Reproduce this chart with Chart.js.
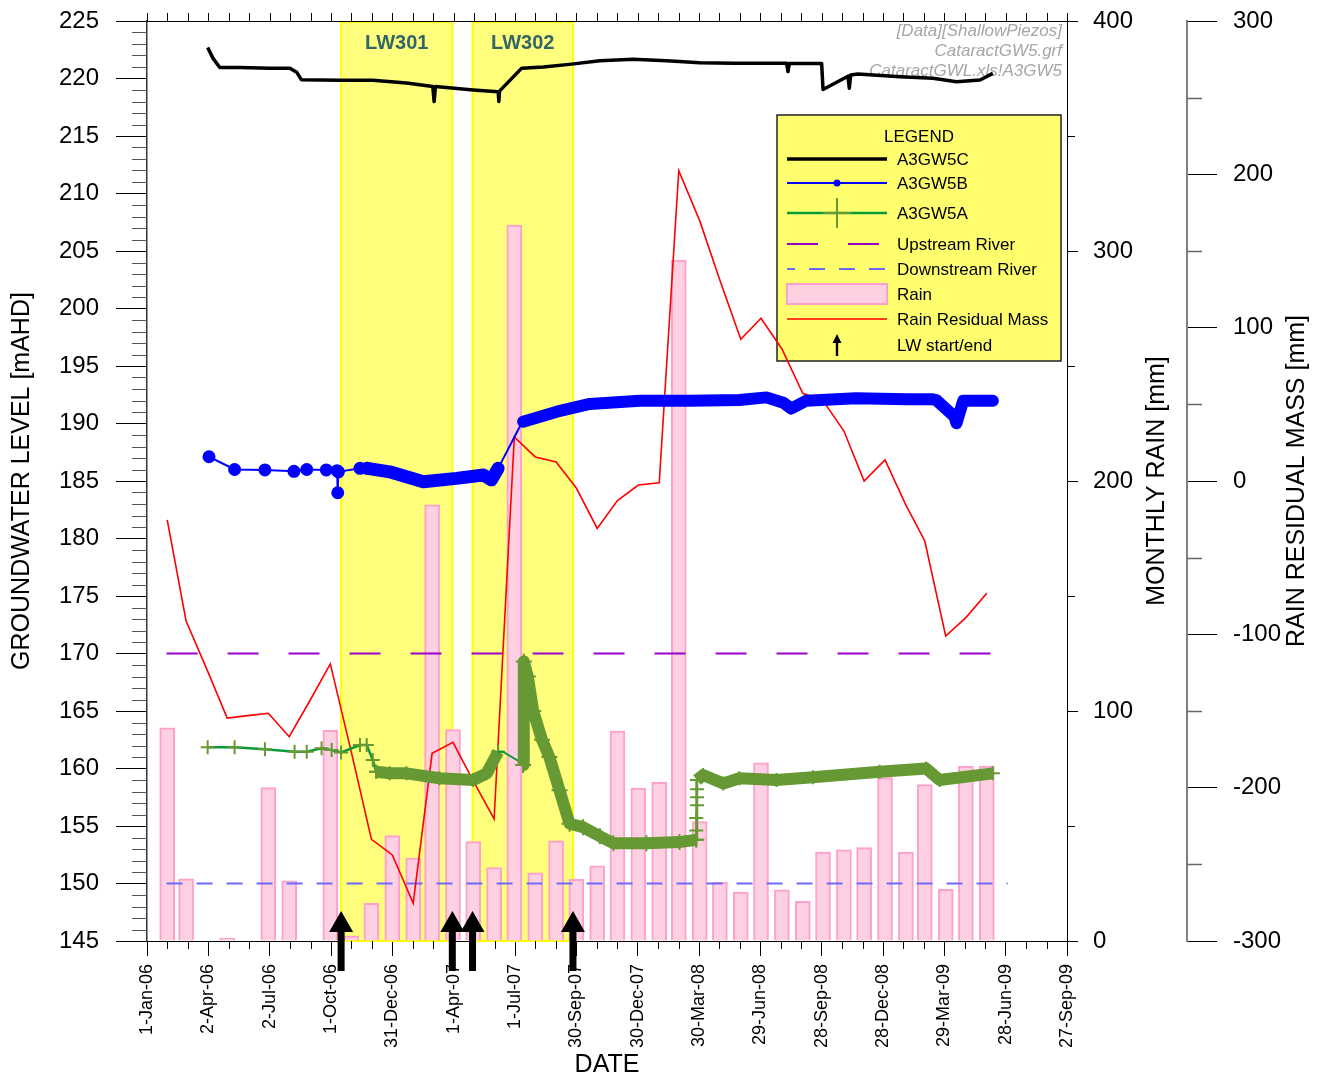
<!DOCTYPE html>
<html>
<head>
<meta charset="utf-8">
<title>Cataract GW5 groundwater levels</title>
<script src="https://cdn.jsdelivr.net/npm/chart.js@4/dist/chart.umd.min.js"></script>
<style>
  html, body { margin: 0; padding: 0; background: #ffffff; }
  canvas { display: block; }
</style>
</head>
<body>
<canvas id="chart" width="1324" height="1081"></canvas>
<script>
// ---- data -------------------------------------------------------------

// Monthly rain (mm), plotted at the end of each month
const rainMonths = [
  '2006-01','2006-02','2006-03','2006-04','2006-05','2006-06','2006-07','2006-08','2006-09','2006-10','2006-11','2006-12',
  '2007-01','2007-02','2007-03','2007-04','2007-05','2007-06','2007-07','2007-08','2007-09','2007-10','2007-11','2007-12',
  '2008-01','2008-02','2008-03','2008-04','2008-05','2008-06','2008-07','2008-08','2008-09','2008-10','2008-11','2008-12',
  '2009-01','2009-02','2009-03','2009-04','2009-05'
];
const rainMm = [
  92.7, 27.0, 0, 1.2, 0, 66.7, 26.2, 0, 91.6, 2.3, 16.4, 45.8,
  36.0, 189.6, 91.9, 43.2, 31.9, 311.3, 29.6, 43.6, 26.8, 32.7, 91.3, 66.5,
  69.0, 296.0, 51.9, 25.5, 21.3, 77.5, 22.3, 17.2, 38.7, 39.6, 40.6, 71.0,
  38.7, 68.0, 22.5, 76.1, 76.1
];
// Rain residual mass (mm), same months
const residualMm = [
  -25.4, -91.3, -123.0, -154.6, -153.0, -151.5, -166.8, -143.0, -119.3, -176.5, -233.7, -243.9,
  -275.4, -177.6, -170.4, -195.5, -220.4, 28.7, 15.7, 12.4, -4.6, -30.9, -12.8, -2.6,
  -1.1, 202.4, 169.8, 131.0, 92.4, 106.1, 86.1, 57.2, 52.4, 32.6, 0.0, 13.7,
  -15.7, -39.1, -101.1, -89.1, -73.2
];

// A3GW5C (mAHD)
const gw5c = [
  ['2006-04-01', 222.70], ['2006-04-09', 221.75], ['2006-04-19', 220.95], ['2006-05-19', 220.95],
  ['2006-07-02', 220.90], ['2006-08-01', 220.90], ['2006-08-11', 220.55], ['2006-08-18', 219.90],
  ['2006-10-14', 219.85], ['2006-12-02', 219.85], ['2007-01-21', 219.60], ['2007-03-01', 219.30],
  ['2007-03-03', 218.00], ['2007-03-05', 219.30], ['2007-04-30', 219.00], ['2007-06-06', 218.85],
  ['2007-06-07', 218.00], ['2007-06-08', 218.90], ['2007-07-11', 220.90], ['2007-08-12', 221.00],
  ['2007-09-23', 221.25], ['2007-11-04', 221.55], ['2007-12-23', 221.67], ['2008-02-11', 221.55],
  ['2008-03-31', 221.37], ['2008-05-20', 221.32], ['2008-08-07', 221.32], ['2008-08-09', 220.60],
  ['2008-08-11', 221.30], ['2008-09-28', 221.30], ['2008-09-30', 219.05], ['2008-11-06', 220.20],
  ['2008-11-08', 219.15], ['2008-11-10', 220.30], ['2008-11-21', 220.40], ['2009-01-22', 220.16],
  ['2009-03-12', 220.02], ['2009-04-16', 219.72], ['2009-05-21', 219.87], ['2009-06-09', 220.45]
];

// A3GW5B (mAHD): manual dips and logger records
const gw5bManual = [
  ['2006-04-03', 187.11], ['2006-05-11', 186.00], ['2006-06-25', 185.96], ['2006-08-07', 185.84],
  ['2006-08-26', 186.00], ['2006-09-24', 185.96], ['2006-10-10', 185.90], ['2006-10-11', 183.98],
  ['2006-10-12', 185.80], ['2006-11-13', 186.10], ['2006-11-24', 186.10]
];
const gw5bLogger1 = [
  ['2006-11-24', 186.10], ['2006-12-27', 185.80], ['2007-02-15', 184.94], ['2007-04-05', 185.23],
  ['2007-05-15', 185.52], ['2007-05-27', 185.10], ['2007-06-06', 186.10]
];
const gw5bGap = [
  ['2007-06-06', 186.10], ['2007-07-08', 189.72], ['2007-07-13', 190.16]
];
const gw5bLogger2 = [
  ['2007-07-13', 190.16], ['2007-09-01', 191.03], ['2007-10-20', 191.70], ['2008-01-02', 191.98],
  ['2008-03-16', 191.98], ['2008-05-29', 192.04], ['2008-07-08', 192.27], ['2008-08-02', 191.81],
  ['2008-08-14', 191.30], ['2008-09-05', 191.98], ['2008-11-18', 192.19], ['2009-02-01', 192.10],
  ['2009-03-12', 192.10], ['2009-03-17', 192.04], ['2009-04-13', 190.60], ['2009-04-16', 190.02],
  ['2009-04-26', 191.98], ['2009-06-09', 191.98]
];

// A3GW5A (mAHD): manual dips and logger records
const gw5aManual = [
  ['2006-04-01', 161.84], ['2006-05-11', 161.84], ['2006-06-25', 161.67], ['2006-08-08', 161.46],
  ['2006-08-26', 161.46], ['2006-09-17', 161.76], ['2006-10-02', 161.60], ['2006-10-16', 161.40],
  ['2006-11-13', 162.04], ['2006-11-23', 162.04], ['2006-12-02', 160.74], ['2006-12-07', 159.72]
];
const gw5aLogger1 = [
  ['2006-12-07', 159.72], ['2006-12-27', 159.58], ['2007-01-21', 159.58], ['2007-03-11', 159.15],
  ['2007-04-30', 159.00], ['2007-05-20', 159.58], ['2007-06-06', 161.46]
];
const gw5aGap = [
  ['2007-06-06', 161.46], ['2007-06-13', 161.46], ['2007-07-08', 160.59], ['2007-07-13', 160.30]
];
const gw5aLogger2 = [
  ['2007-07-13', 160.30], ['2007-07-14', 169.30], ['2007-07-20', 168.00], ['2007-07-28', 165.00],
  ['2007-08-10', 162.50], ['2007-08-21', 161.00], ['2007-09-05', 158.10], ['2007-09-20', 155.20],
  ['2007-10-10', 154.90], ['2007-11-04', 154.10], ['2007-11-24', 153.50], ['2008-01-12', 153.50],
  ['2008-03-01', 153.60], ['2008-03-26', 153.80]
];
const gw5aRecovery = [
  ['2008-03-26', 153.80], ['2008-03-26', 154.60], ['2008-03-26', 155.70], ['2008-03-27', 156.80],
  ['2008-03-27', 157.50], ['2008-03-27', 158.20], ['2008-03-27', 159.00]
];
const gw5aLogger3 = [
  ['2008-03-27', 159.00], ['2008-04-05', 159.43], ['2008-05-05', 158.70], ['2008-05-29', 159.15],
  ['2008-07-23', 159.00], ['2008-09-15', 159.24], ['2008-12-23', 159.72], ['2009-03-02', 160.00],
  ['2009-03-22', 159.00], ['2009-06-09', 159.58]
];

// River pool levels (mAHD)
const upstreamRiver = 170;
const downstreamRiver = 150;
const riverSpan = ['2006-01-30', '2009-07-01'];

// Longwall extraction periods
const longwalls = [
  { name: 'LW301', start: '2006-10-16', end: '2007-03-30' },
  { name: 'LW302', start: '2007-04-29', end: '2007-09-25' }
];

// Date axis tick dates
const xTickDates = [
  '2006-01-01','2006-04-02','2006-07-02','2006-10-01','2006-12-31','2007-04-01','2007-07-01','2007-09-30',
  '2007-12-30','2008-03-30','2008-06-29','2008-09-28','2008-12-28','2009-03-29','2009-06-28','2009-09-27'
];

const noteLines = ['[Data][ShallowPiezos]', 'CataractGW5.grf', 'CataractGWL.xls!A3GW5'];
const legendLabels = ['A3GW5C', 'A3GW5B', 'A3GW5A', 'Upstream River', 'Downstream River', 'Rain', 'Rain Residual Mass', 'LW start/end'];

// ---- helpers ----------------------------------------------------------

const FONT = '"Liberation Sans", Arial, Helvetica, sans-serif';
const ORIGIN = Date.UTC(2006, 0, 1);
const DAY_MS = 864e5;
const MONTH_ABBR = ['Jan','Feb','Mar','Apr','May','Jun','Jul','Aug','Sep','Oct','Nov','Dec'];

const dayOf = s => (Date.parse(s + 'T00:00:00Z') - ORIGIN) / DAY_MS;
const monthEndDay = m => {
  const [y, mo] = m.split('-').map(Number);
  return (Date.UTC(y, mo, 1) - ORIGIN) / DAY_MS - 1;
};
const fmtDay = d => {
  const t = new Date(ORIGIN + Math.round(d) * DAY_MS);
  return t.getUTCDate() + '-' + MONTH_ABBR[t.getUTCMonth()] + '-' + String(t.getUTCFullYear()).slice(2);
};
const toPoints = arr => arr.map(([d, v]) => ({ x: dayOf(d), y: v }));

const X_MIN = dayOf(xTickDates[0]);
const X_MAX = dayOf(xTickDates[xTickDates.length - 1]);

// ---- colours ----------------------------------------------------------

const C = {
  black: '#000000',
  blue: '#0000ff',
  greenLine: '#0a9a3a',
  olive: '#669933',
  purple: '#9900cc',
  dsBlue: '#6a6aff',
  red: '#ff0000',
  rainFill: '#ffd0e2',
  rainEdge: '#ff9fcc',
  panel: 'rgb(255,255,125)',
  panelEdge: '#ffff00',
  legendFill: 'rgb(255,255,110)',
  lwText: '#336666',
  note: '#a6a6a6'
};

const lineBase = { type: 'line', yAxisID: 'y', tension: 0, fill: false, pointHitRadius: 0 };

// fixed axis boxes: no extra padding for overhanging labels
const fixWidth = w => s => { s.width = w; s.paddingTop = 0; s.paddingBottom = 0; };
const fixHeight = h => s => { s.height = h; s.paddingLeft = 0; s.paddingRight = 0; };

// ---- decorations drawn through the chart's scales ---------------------

function drawArrow(ctx, x, base) {
  ctx.beginPath();
  ctx.moveTo(x, base - 30);
  ctx.lineTo(x + 12, base - 9);
  ctx.lineTo(x + 3.5, base - 9);
  ctx.lineTo(x + 3.5, base + 30);
  ctx.lineTo(x - 3.5, base + 30);
  ctx.lineTo(x - 3.5, base - 9);
  ctx.lineTo(x - 12, base - 9);
  ctx.closePath();
  ctx.fill();
}

function drawLegend(ctx) {
  const L = 777, T = 115, R = 1061, B = 361;
  const x0 = 787, x1 = 887, xc = 837, tx = 897;
  const rowY = [159, 183, 213, 244, 269, 294, 319, 345];
  ctx.save();
  ctx.fillStyle = C.legendFill;
  ctx.fillRect(L, T, R - L, B - T);
  ctx.strokeStyle = '#222';
  ctx.lineWidth = 1.5;
  ctx.strokeRect(L, T, R - L, B - T);

  ctx.fillStyle = '#000';
  ctx.font = '17px ' + FONT;
  ctx.textAlign = 'center';
  ctx.textBaseline = 'middle';
  ctx.fillText('LEGEND', 919, 137);

  const hline = (y, color, width, dash, offset) => {
    ctx.save();
    ctx.strokeStyle = color; ctx.lineWidth = width;
    ctx.setLineDash(dash || []); ctx.lineDashOffset = offset || 0;
    ctx.beginPath(); ctx.moveTo(x0, y); ctx.lineTo(x1, y); ctx.stroke();
    ctx.restore();
  };
  // A3GW5C
  hline(rowY[0], C.black, 3.5);
  // A3GW5B
  hline(rowY[1], C.blue, 2);
  ctx.fillStyle = C.blue; ctx.beginPath(); ctx.arc(xc, rowY[1], 3.5, 0, Math.PI * 2); ctx.fill();
  // A3GW5A
  hline(rowY[2], C.greenLine, 2.5);
  ctx.strokeStyle = C.olive; ctx.lineWidth = 2;
  ctx.beginPath();
  ctx.moveTo(xc, rowY[2] - 15); ctx.lineTo(xc, rowY[2] + 15);
  ctx.moveTo(xc - 14, rowY[2]); ctx.lineTo(xc + 14, rowY[2]);
  ctx.stroke();
  // rivers
  hline(rowY[3], C.purple, 2, [31, 30]);
  hline(rowY[4], C.dsBlue, 2, [16, 14], 8);
  // rain
  ctx.fillStyle = C.rainFill; ctx.fillRect(x0, rowY[5] - 10, x1 - x0, 20);
  ctx.strokeStyle = C.rainEdge; ctx.lineWidth = 2; ctx.strokeRect(x0, rowY[5] - 10, x1 - x0, 20);
  // residual mass
  hline(rowY[6], C.red, 1.5);
  // arrow
  ctx.fillStyle = '#000';
  ctx.beginPath();
  ctx.moveTo(xc, rowY[7] - 11); ctx.lineTo(xc + 4.5, rowY[7] - 2); ctx.lineTo(xc + 1.2, rowY[7] - 2);
  ctx.lineTo(xc + 1.2, rowY[7] + 11); ctx.lineTo(xc - 1.2, rowY[7] + 11); ctx.lineTo(xc - 1.2, rowY[7] - 2);
  ctx.lineTo(xc - 4.5, rowY[7] - 2); ctx.closePath(); ctx.fill();

  ctx.fillStyle = '#000';
  ctx.textAlign = 'left';
  legendLabels.forEach((t, i) => ctx.fillText(t, tx, rowY[i] + 1));
  ctx.restore();
}

const decorPlugin = {
  id: 'decor',
  beforeDatasetsDraw(chart) {
    const { ctx, chartArea: ca, scales: { x } } = chart;
    ctx.save();
    // longwall panels
    longwalls.forEach(lw => {
      const a = x.getPixelForValue(dayOf(lw.start));
      const b = x.getPixelForValue(dayOf(lw.end));
      ctx.fillStyle = C.panel;
      ctx.fillRect(a, ca.top, b - a, ca.bottom - ca.top);
      ctx.strokeStyle = C.panelEdge;
      ctx.lineWidth = 2;
      ctx.strokeRect(a, ca.top + 1, b - a, ca.bottom - ca.top - 1);
      ctx.fillStyle = C.lwText;
      ctx.font = 'bold 20px ' + FONT;
      ctx.textAlign = 'center';
      ctx.textBaseline = 'middle';
      ctx.fillText(lw.name, (a + b) / 2, ca.top + 22);
    });
    // source note
    ctx.fillStyle = C.note;
    ctx.font = 'italic 17px ' + FONT;
    ctx.textAlign = 'right';
    ctx.textBaseline = 'middle';
    noteLines.forEach((t, i) => ctx.fillText(t, ca.right - 5, ca.top + 10 + i * 20));
    ctx.restore();
    drawLegend(ctx);
  },
  afterDraw(chart) {
    const { ctx, chartArea: ca, scales: { x, y, y1, y2 } } = chart;
    ctx.save();
    ctx.lineWidth = 1;
    ctx.strokeStyle = '#000';
    // top frame line and ticks
    ctx.beginPath();
    ctx.moveTo(ca.left, ca.top + 0.5);
    ctx.lineTo(ca.right, ca.top + 0.5);
    const step = (X_MAX - X_MIN) / 45;
    for (let i = 0; i <= 45; i++) {
      const px = Math.round(x.getPixelForValue(X_MIN + i * step)) + 0.5;
      ctx.moveTo(px, ca.top);
      ctx.lineTo(px, ca.top - 8);
      if (i % 3) {
        ctx.moveTo(px, ca.bottom);
        ctx.lineTo(px, ca.bottom + 8);
      }
    }
    ctx.stroke();
    // minor ticks on the level axis
    ctx.strokeStyle = '#555';
    ctx.beginPath();
    for (let v = y.min + 1; v < y.max; v++) {
      if (v % 5 === 0) continue;
      const py = Math.round(y.getPixelForValue(v)) + 0.5;
      ctx.moveTo(ca.left - 15, py); ctx.lineTo(ca.left, py);
    }
    ctx.stroke();
    // minor ticks on the rain axis
    ctx.strokeStyle = '#000';
    ctx.beginPath();
    for (let v = 50; v < y1.max; v += 100) {
      const py = Math.round(y1.getPixelForValue(v)) + 0.5;
      ctx.moveTo(y1.left, py); ctx.lineTo(y1.left + 8, py);
    }
    ctx.stroke();
    // minor ticks on the residual axis
    ctx.strokeStyle = '#666';
    ctx.lineWidth = 1.5;
    ctx.beginPath();
    for (let v = y2.min + 50; v < y2.max; v += 100) {
      const py = Math.round(y2.getPixelForValue(v)) + 0.5;
      ctx.moveTo(y2.left, py); ctx.lineTo(y2.left + 15, py);
    }
    ctx.stroke();

    // longwall start/end arrows
    ctx.fillStyle = '#000';
    longwalls.forEach(lw => {
      drawArrow(ctx, x.getPixelForValue(dayOf(lw.start)), ca.bottom);
      drawArrow(ctx, x.getPixelForValue(dayOf(lw.end)), ca.bottom);
    });

    // right-hand axis titles, reading upwards
    ctx.fillStyle = '#000';
    ctx.font = '25px ' + FONT;
    ctx.textAlign = 'center';
    ctx.textBaseline = 'middle';
    const midY = (ca.top + ca.bottom) / 2;
    [[y1.left + 90, 'MONTHLY RAIN [mm]'], [y2.left + 110, 'RAIN RESIDUAL MASS [mm]']].forEach(([tx, t]) => {
      ctx.save();
      ctx.translate(tx, midY);
      ctx.rotate(-Math.PI / 2);
      ctx.fillText(t, 0, 0);
      ctx.restore();
    });
    ctx.restore();
  }
};

// ---- chart ------------------------------------------------------------

const tickFont = { family: FONT, size: 24 };
const titleFont = { family: FONT, size: 25 };

new Chart(document.getElementById('chart'), {
  type: 'line',
  data: {
    datasets: [
      { ...lineBase, label: 'A3GW5C', data: toPoints(gw5c), borderColor: C.black, borderWidth: 3.5,
        pointRadius: 0, borderJoinStyle: 'round', order: 1 },

      { ...lineBase, label: 'A3GW5B', data: toPoints(gw5bLogger2), borderColor: C.blue, borderWidth: 12,
        borderCapStyle: 'round', borderJoinStyle: 'round', pointRadius: 0, order: 2 },
      { ...lineBase, label: 'A3GW5B', data: toPoints(gw5bLogger1), borderColor: C.blue, borderWidth: 13,
        borderCapStyle: 'round', borderJoinStyle: 'round', pointRadius: 0, order: 3 },
      { ...lineBase, label: 'A3GW5B', data: toPoints(gw5bGap), borderColor: C.blue, borderWidth: 2,
        pointRadius: 0, order: 4 },
      { ...lineBase, label: 'A3GW5B', data: toPoints(gw5bManual), borderColor: C.blue, borderWidth: 2,
        pointRadius: 5.5, pointBackgroundColor: C.blue, pointBorderColor: C.blue, order: 5 },

      { ...lineBase, label: 'A3GW5A', data: toPoints(gw5aLogger3), borderColor: C.olive, borderWidth: 12,
        borderJoinStyle: 'round', pointStyle: 'cross', pointRadius: 7, pointBorderWidth: 2,
        pointBorderColor: C.olive, order: 6 },
      { ...lineBase, label: 'A3GW5A', data: toPoints(gw5aRecovery), borderColor: C.olive, borderWidth: 3,
        pointStyle: 'cross', pointRadius: 7, pointBorderWidth: 2, pointBorderColor: C.olive, order: 7 },
      { ...lineBase, label: 'A3GW5A', data: toPoints(gw5aLogger2), borderColor: C.olive, borderWidth: 12,
        borderJoinStyle: 'round', pointStyle: 'cross', pointRadius: 8, pointBorderWidth: 2,
        pointBorderColor: C.olive, order: 8 },
      { ...lineBase, label: 'A3GW5A', data: toPoints(gw5aGap), borderColor: C.greenLine, borderWidth: 2,
        pointRadius: 0, order: 9 },
      { ...lineBase, label: 'A3GW5A', data: toPoints(gw5aLogger1), borderColor: C.olive, borderWidth: 12,
        borderJoinStyle: 'round', pointStyle: 'cross', pointRadius: 7, pointBorderWidth: 2,
        pointBorderColor: C.olive, order: 10 },
      { ...lineBase, label: 'A3GW5A', data: toPoints(gw5aManual), borderColor: C.greenLine, borderWidth: 2.5,
        pointStyle: 'cross', pointRadius: 7, pointBorderWidth: 2, pointBorderColor: C.olive, order: 11 },

      { ...lineBase, label: 'Rain Residual Mass', yAxisID: 'y2',
        data: rainMonths.map((m, i) => ({ x: monthEndDay(m), y: residualMm[i] })),
        borderColor: C.red, borderWidth: 1.6, pointRadius: 0, order: 12 },

      { ...lineBase, label: 'Upstream River',
        data: riverSpan.map(d => ({ x: dayOf(d), y: upstreamRiver })),
        borderColor: C.purple, borderWidth: 2, borderDash: [31, 30], pointRadius: 0, order: 13 },
      { ...lineBase, label: 'Downstream River',
        data: riverSpan.map(d => ({ x: dayOf(d), y: downstreamRiver })),
        borderColor: C.dsBlue, borderWidth: 2, borderDash: [16, 14], pointRadius: 0, order: 14 },

      { type: 'bar', label: 'Rain', yAxisID: 'y1',
        data: rainMonths.map((m, i) => ({ x: monthEndDay(m), y: rainMm[i] })),
        backgroundColor: C.rainFill, borderColor: C.rainEdge, borderWidth: 2,
        barThickness: 15, order: 20 }
    ]
  },
  options: {
    responsive: false,
    devicePixelRatio: 1,
    animation: false,
    events: [],
    layout: { padding: { top: 21, left: 0, right: 0, bottom: 0 } },
    plugins: { legend: { display: false }, tooltip: { enabled: false } },
    scales: {
      x: {
        type: 'linear', position: 'bottom', min: X_MIN, max: X_MAX, offset: false, z: 1,
        afterBuildTicks: s => { s.ticks = xTickDates.map(d => ({ value: dayOf(d) })); },
        afterFit: fixHeight(140),
        grid: { display: true, drawOnChartArea: false, drawTicks: true, tickLength: 15,
                tickColor: '#000', offset: false },
        border: { display: true, color: '#000', width: 1 },
        ticks: { autoSkip: false, maxRotation: 90, minRotation: 90, padding: 8, color: '#000',
                 font: { family: FONT, size: 18 }, callback: v => fmtDay(v) },
        title: { display: true, text: 'DATE', color: '#000', font: titleFont, padding: { top: 0, bottom: 1 } }
      },
      y: {
        type: 'linear', position: 'left', min: 145, max: 225, z: 1,
        afterFit: fixWidth(147),
        grid: { display: true, drawOnChartArea: false, tickLength: 31, tickColor: '#000' },
        border: { display: true, color: '#333', width: 1.5 },
        ticks: { stepSize: 5, padding: 17, color: '#000', font: tickFont },
        title: { display: true, text: 'GROUNDWATER LEVEL [mAHD]', color: '#000', font: titleFont,
                 padding: { top: 7, bottom: 0 } }
      },
      y1: {
        type: 'linear', position: 'right', min: 0, max: 400, weight: 0, z: 1,
        afterFit: fixWidth(120),
        grid: { display: true, drawOnChartArea: false, tickLength: 11, tickColor: '#000' },
        border: { display: true, color: '#000', width: 1 },
        ticks: { stepSize: 100, padding: 15, color: '#000', font: tickFont }
      },
      y2: {
        type: 'linear', position: 'right', min: -300, max: 300, weight: 1,
        afterFit: fixWidth(137),
        grid: { display: true, drawOnChartArea: false, tickLength: 30, tickColor: '#000' },
        border: { display: true, color: '#808080', width: 2 },
        ticks: { stepSize: 100, padding: 16, color: '#000', font: tickFont }
      }
    }
  },
  plugins: [decorPlugin]
});
</script>
</body>
</html>
